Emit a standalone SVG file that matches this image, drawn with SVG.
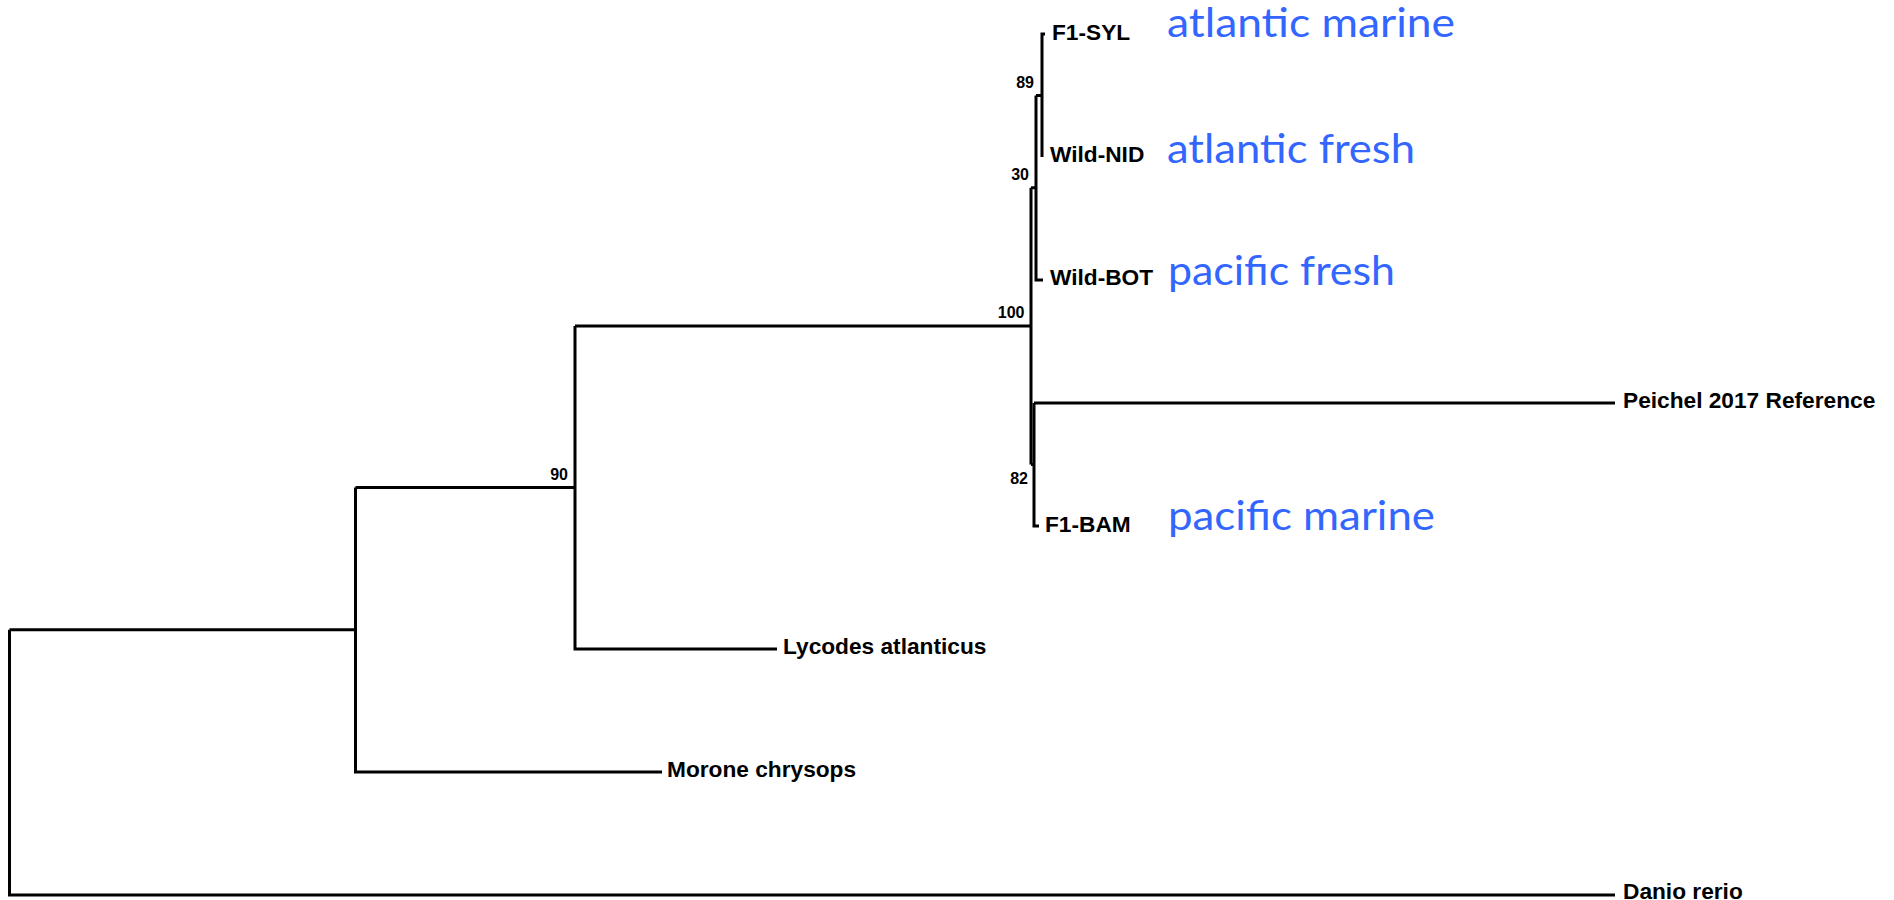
<svg xmlns="http://www.w3.org/2000/svg" width="1894" height="900" viewBox="0 0 1894 900">
<style>
.br{fill:none;stroke:#000;stroke-width:3;stroke-linecap:butt;stroke-linejoin:miter}
.leaf{font-family:"Liberation Sans",Arial,sans-serif;font-weight:bold;font-size:22.7px;fill:#000}
.bs{font-family:"Liberation Sans",Arial,sans-serif;font-weight:bold;font-size:16px;fill:#000;text-anchor:end}
.hab{font-family:Lato,"Open Sans",sans-serif;font-size:40px;fill:#3366FF}
</style>
<rect width="1894" height="900" fill="#fff"/>
<g id="connectors">
<path class="br" d="M9.5,629.75 V895 H1615"/>
<path class="br" d="M9.5,629.75 H355.5"/>
<path class="br" d="M355.5,487.5 V772 H662"/>
<path class="br" d="M355.5,487.5 H575"/>
<path class="br" d="M575,326 V649 H777"/>
<path class="br" d="M575,326 H1031"/>
<path class="br" d="M1031,187.75 V464.5"/>
<path class="br" d="M1031,187.75 H1036"/>
<path class="br" d="M1031,464.5 H1034"/>
<path class="br" d="M1034,403 H1615"/>
<path class="br" d="M1034,403 V526 H1039"/>
<path class="br" d="M1036,95.5 V280 H1043"/>
<path class="br" d="M1036,95.5 H1042"/>
<path class="br" d="M1045,34 H1042 V157"/>
</g>
<g id="node-89"><text class="bs" x="1034" y="88">89</text></g>
<g id="node-30"><text class="bs" x="1029" y="180">30</text></g>
<g id="node-100"><text class="bs" x="1024.5" y="318">100</text></g>
<g id="node-82"><text class="bs" x="1028" y="484">82</text></g>
<g id="node-90"><text class="bs" x="568" y="480">90</text></g>
<g id="leaf-f1-syl"><text class="leaf" x="1052" y="39.5">F1-SYL</text></g>
<g id="leaf-wild-nid"><text class="leaf" x="1050" y="162">Wild-NID</text></g>
<g id="leaf-wild-bot"><text class="leaf" x="1050" y="285">Wild-BOT</text></g>
<g id="leaf-peichel"><text class="leaf" x="1623" y="408">Peichel 2017 Reference</text></g>
<g id="leaf-f1-bam"><text class="leaf" x="1045" y="531.5">F1-BAM</text></g>
<g id="leaf-lycodes"><text class="leaf" x="783" y="654">Lycodes atlanticus</text></g>
<g id="leaf-morone"><text class="leaf" x="667" y="777">Morone chrysops</text></g>
<g id="leaf-danio"><text class="leaf" x="1623" y="899">Danio rerio</text></g>
<g id="label-atlantic-marine"><text class="hab" x="1167" y="36.7" textLength="288" lengthAdjust="spacingAndGlyphs">atlantic marine</text></g>
<g id="label-atlantic-fresh"><text class="hab" x="1167" y="163.3" textLength="248" lengthAdjust="spacingAndGlyphs">atlantic fresh</text></g>
<g id="label-pacific-fresh"><text class="hab" x="1168" y="285" textLength="227" lengthAdjust="spacingAndGlyphs">pacific fresh</text></g>
<g id="label-pacific-marine"><text class="hab" x="1168" y="530" textLength="267" lengthAdjust="spacingAndGlyphs">pacific marine</text></g>
</svg>
